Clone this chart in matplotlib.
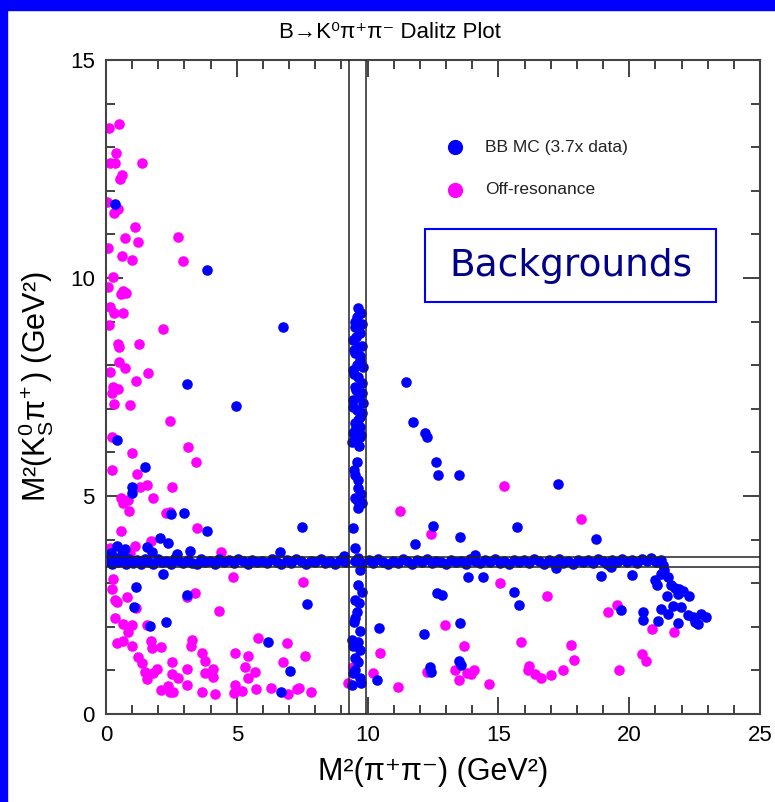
import matplotlib
matplotlib.use("Agg")
import matplotlib.pyplot as plt
from matplotlib import font_manager
from matplotlib.patches import Rectangle
from matplotlib.ticker import MultipleLocator

names = {f.name for f in font_manager.fontManager.ttflist}
NARROW = 'Liberation Sans Narrow' if 'Liberation Sans Narrow' in names else 'Liberation Sans'

plt.rcParams['font.family'] = [NARROW, 'DejaVu Sans']
plt.rcParams['mathtext.fontset'] = 'custom'
plt.rcParams['mathtext.rm'] = NARROW
plt.rcParams['mathtext.it'] = NARROW
plt.rcParams['mathtext.sf'] = NARROW

# ---------------- data ----------------
# BB MC: horizontal band
band_x = [0.08,0.22,0.35,0.47,0.61,0.76,0.88,1.02,1.19,1.33,1.48,1.66,1.81,1.97,2.14,2.3,2.47,2.62,2.79,2.95,
          3.12,3.3,3.46,3.63,3.8,3.98,4.15,4.33,4.52,4.7,4.88,5.05,5.24,5.43,5.6,5.78,5.97,6.15,6.34,6.52,
          6.7,6.9,7.08,7.27,7.45,7.63,7.82,8.0,8.2,8.38,8.57,8.76,8.95,9.13,9.5,9.62,9.78,10.05,10.22,10.4,
          10.6,10.78,10.97,11.15,11.34,11.52,11.7,11.9,12.08,12.27,12.45,12.63,12.82,13.0,13.2,13.38,13.56,13.75,13.93,14.12,
          14.3,14.5,14.68,14.86,15.05,15.23,15.42,15.6,15.8,15.98,16.17,16.35,16.55,16.73,16.92,17.1,17.3,17.48,17.67,17.85,
          18.04,18.23,18.42,18.6,18.8,18.98,19.17,19.36,19.55,19.73,19.92,20.1,20.3,20.48,20.67,20.85,21.02,21.2,21.3]
band_y = [3.52,3.45,3.58,3.48,3.54,3.44,3.55,3.47,3.53,3.43,3.56,3.49,3.45,3.55,3.48,3.52,3.44,3.57,3.5,3.46,
          3.54,3.47,3.43,3.55,3.49,3.52,3.45,3.56,3.48,3.53,3.46,3.55,3.5,3.44,3.54,3.48,3.52,3.46,3.56,3.49,
          3.45,3.53,3.47,3.55,3.5,3.44,3.52,3.48,3.55,3.46,3.51,3.44,3.54,3.49,3.5,3.57,3.46,3.53,3.47,3.55,
          3.49,3.44,3.52,3.47,3.55,3.5,3.45,3.53,3.48,3.56,3.46,3.52,3.49,3.44,3.54,3.48,3.52,3.45,3.55,3.5,
          3.46,3.53,3.48,3.56,3.47,3.52,3.44,3.54,3.49,3.53,3.46,3.55,3.5,3.45,3.53,3.48,3.55,3.47,3.52,3.45,
          3.54,3.49,3.53,3.46,3.55,3.5,3.44,3.53,3.48,3.56,3.49,3.53,3.46,3.55,3.5,3.57,3.48,3.53,3.42]

# BB MC: vertical band near M2(pi pi) ~ 9.6
vband_x = [9.64,9.6,9.53,9.72,9.45,9.64,9.53,9.72,9.45,9.64,9.53,9.8,9.45,9.83,9.6,9.72,9.53,9.72,9.45,9.41,
           9.72,9.6,9.53,9.64,9.64,9.53,9.8,9.64,9.45,9.53,9.72,9.64,9.8,9.53,9.6,9.49,9.41,9.64,9.72,9.53,
           9.45,9.72,9.41,
           9.75,9.5,9.78,9.55,9.8,9.48,9.7,9.58,9.82,9.47,9.77,9.56,9.68,9.43,9.79,9.62,9.5,9.74,9.57,9.66,
           9.49,9.76,9.6,9.68,9.5,9.7,9.46,9.62,9.52,9.74]
vband_y = [9.31,9.1,8.88,8.73,8.58,8.42,8.28,8.12,7.89,7.73,7.5,7.36,7.2,7.13,6.97,6.81,6.67,6.58,6.44,6.24,
           6.35,5.78,5.48,5.37,5.18,4.95,4.84,4.72,4.27,3.81,3.3,2.96,2.8,2.61,2.34,2.11,1.7,1.65,1.47,1.28,
           0.94,0.83,0.67,
           9.2,9.0,8.95,8.65,8.45,8.35,8.2,8.0,7.95,7.8,7.6,7.42,7.3,7.05,6.9,6.75,6.52,6.4,6.3,6.15,
           5.6,5.05,4.9,2.55,2.2,1.9,1.55,1.2,1.0,0.72]

# BB MC: scattered points
bb_x = [0.34,3.86,6.77,3.1,4.97,0.42,1.49,0.99,1.0,3.0,2.5,3.85,7.5,2.06,2.37,0.42,0.73,1.56,1.75,3.2,
        2.7,6.65,2.18,1.15,3.1,7.68,1.07,1.68,2.29,6.2,7.03,6.69,0.2,0.6,14.1,17.2,19.3,9.1,
        11.47,11.73,12.2,12.27,12.6,12.7,12.5,11.8,12.65,12.85,10.44,12.16,12.38,12.42,10.36,13.5,17.28,
        15.7,13.53,18.73,13.84,14.41,18.92,20.1,15.6,15.8,13.53,19.7,13.5,13.57,
        21.0,21.08,21.5,21.6,21.75,21.9,21.44,21.87,22.06,22.3,21.2,21.5,21.67,21.98,22.25,22.44,22.63,22.74,22.93,22.5,
        21.1,21.87,20.53,20.53,21.33,21.2]
bb_y = [11.7,10.18,8.88,7.57,7.06,6.28,5.66,5.2,5.07,4.6,4.59,4.2,4.29,4.04,3.92,3.85,3.78,3.83,3.72,3.74,
        3.67,3.72,3.21,2.91,2.73,2.52,2.45,2.02,2.11,1.65,0.99,0.5,3.7,3.66,3.65,3.35,3.37,3.62,
        7.61,6.7,6.44,6.35,5.78,5.48,4.31,3.9,2.78,2.73,1.97,1.83,1.08,0.96,0.78,5.48,5.27,
        4.29,4.06,4.01,3.14,3.14,3.17,3.19,2.8,2.5,2.09,2.39,1.22,1.12,
        3.07,2.96,3.14,2.96,2.9,2.86,2.7,2.75,2.82,2.7,2.41,2.29,2.48,2.45,2.27,2.22,2.06,2.29,2.22,2.12,
        2.13,2.09,2.34,2.16,3.3,3.2]

# Off-resonance
off_x = [0.12,0.5,0.38,0.15,0.34,1.38,0.61,0.54,0.04,0.3,0.46,1.1,0.73,1.22,2.75,0.08,0.61,0.99,2.94,0.27,
         0.08,0.65,0.76,0.58,0.15,0.31,0.65,0.12,2.18,0.46,0.48,1.26,0.5,0.73,0.15,1.6,1.15,0.27,0.46,0.23,
         0.31,0.92,2.45,0.23,3.13,0.99,3.44,0.23,1.18,2.52,1.57,1.3,0.57,0.84,0.65,1.8,0.88,2.45,2.29,3.48,
         0.57,1.72,1.11,0.15,4.4,0.92,4.85,7.53,0.27,0.23,0.8,3.4,3.1,0.34,0.42,4.32,1.15,0.34,0.65,0.99,
         1.57,0.84,5.81,0.42,0.65,0.99,1.72,1.76,2.1,3.29,3.25,6.92,1.22,1.38,3.67,3.78,4.93,5.43,7.6,2.52,
         6.77,1.95,1.49,1.8,1.57,3.1,3.78,4.09,4.09,5.31,5.7,2.52,2.75,5.43,2.1,2.37,2.45,2.56,3.1,3.67,
         4.17,4.93,4.9,5.2,5.73,6.3,6.96,7.3,7.38,7.84,9.25,9.44,
         11.24,12.42,12.96,10.47,10.2,11.16,12.27,15.2,18.16,15.06,16.86,19.2,19.53,20.87,21.7,13.7,15.86,17.78,17.9,20.5,
         20.64,13.34,13.8,13.95,14.07,13.5,14.64,16.17,16.13,16.4,16.63,17.01,17.47,19.6]
off_y = [13.44,13.53,12.87,12.64,12.64,12.64,12.36,12.27,11.74,11.5,11.58,11.17,10.92,10.83,10.94,10.69,10.5,10.41,10.39,10.02,
         9.79,9.7,9.66,9.63,9.33,9.2,9.2,8.92,8.83,8.49,8.42,8.49,8.07,7.94,7.84,7.82,7.64,7.5,7.45,7.36,
         7.11,7.09,6.72,6.35,6.12,5.99,5.78,5.6,5.5,5.2,5.25,5.2,4.95,4.9,4.84,4.95,4.66,4.63,4.61,4.27,
         4.2,3.97,3.85,3.81,3.72,3.69,3.14,3.03,3.1,2.87,2.68,2.78,2.68,2.61,2.57,2.36,2.43,2.2,2.06,2.04,
         2.04,1.88,1.74,1.63,1.67,1.56,1.67,1.51,1.54,1.7,1.56,1.63,1.31,1.17,1.4,1.22,1.4,1.33,1.33,1.19,
         1.19,1.03,0.96,0.94,0.8,1.03,0.94,1.03,0.85,1.08,0.96,0.92,0.83,0.83,0.55,0.64,0.5,0.5,0.67,0.5,
         0.46,0.67,0.48,0.53,0.57,0.6,0.46,0.57,0.6,0.5,0.71,1.08,
         4.66,4.13,2.04,1.4,0.94,0.62,0.96,5.23,4.47,3.0,2.7,2.34,2.5,1.95,1.88,1.56,1.65,1.58,1.24,1.38,
         1.22,1.01,0.94,0.92,1.01,0.78,0.69,1.1,1.01,0.92,0.83,0.89,1.01,1.01]

vlines_x = [9.3, 9.95]
hlines_y = [3.37, 3.6]
legend_labels = ["BB MC (3.7x data)", "Off-resonance"]
title = "B→K⁰π⁺π⁻ Dalitz Plot"
xlabel = "M²(π⁺π⁻) (GeV²)"
ylabel = "M²(K$^0_S$π$^{\\!+}$) (GeV²)"

# ---------------- figure ----------------
BLUE = '#0000ff'
MAG = '#ff00ff'
fig = plt.figure(figsize=(7.75, 8.02), dpi=100)
fig.patch.set_facecolor('white')
fig.patches.append(Rectangle((0, 0), 7/775, 1, transform=fig.transFigure, color=BLUE, zorder=0))
fig.patches.append(Rectangle((0, 1-10/802), 1, 10/802, transform=fig.transFigure, color=BLUE, zorder=0))

ax = fig.add_axes([106/775, 88/802, 654/775, 654/802])
ax.set_xlim(0, 25)
ax.set_ylim(0, 15)

ms = 58
ax.scatter(off_x, off_y, s=ms, c=MAG, marker='o', linewidths=0, zorder=2)
ax.scatter(band_x, band_y, s=ms, c=BLUE, marker='o', linewidths=0, zorder=2)
ax.scatter(vband_x, vband_y, s=ms, c=BLUE, marker='o', linewidths=0, zorder=2)
ax.scatter(bb_x, bb_y, s=ms, c=BLUE, marker='o', linewidths=0, zorder=2)

for xv in vlines_x:
    ax.axvline(xv, color='#222222', lw=1.1, zorder=3)
for yv in hlines_y:
    ax.axhline(yv, color='#222222', lw=1.1, zorder=3)

ax.xaxis.set_major_locator(MultipleLocator(5))
ax.xaxis.set_minor_locator(MultipleLocator(1))
ax.yaxis.set_major_locator(MultipleLocator(5))
ax.yaxis.set_minor_locator(MultipleLocator(1))
ax.tick_params(which='both', direction='in', top=True, right=True, color='#333333', width=1.3)
ax.tick_params(which='major', length=12, labelsize=16, pad=8)
ax.tick_params(which='minor', length=6.5)
for sp in ax.spines.values():
    sp.set_color('#444444')
    sp.set_linewidth(1.5)

ax.set_xlabel(xlabel, fontsize=22, labelpad=8)
ax.set_ylabel(ylabel, fontsize=22, labelpad=10)
fig.text(390/775, 1-32/802, title, ha='center', va='center', fontsize=16)

# legend
ax.scatter([13.34], [13.0], s=120, c=BLUE, linewidths=0, zorder=4)
ax.scatter([13.34], [12.02], s=120, c=MAG, linewidths=0, zorder=4)
ax.text(14.49, 13.0, legend_labels[0], fontsize=12.5, va='center', ha='left', color='#222222',
        family=['Liberation Sans', 'DejaVu Sans'])
ax.text(14.49, 12.02, legend_labels[1], fontsize=12.5, va='center', ha='left', color='#222222',
        family=['Liberation Sans', 'DejaVu Sans'])

# Backgrounds box
bx0, bx1 = (425-106)/26.16, (716-106)/26.16
by0, by1 = (714-302)/43.6, (714-229)/43.6
ax.add_patch(Rectangle((bx0, by0), bx1-bx0, by1-by0, fill=False, edgecolor=BLUE, lw=1.5, zorder=4))
ax.text((bx0+bx1)/2, (by0+by1)/2, "Backgrounds", fontsize=27, ha='center', va='center',
        color='#000088', family=['DejaVu Sans'], zorder=5)

fig.savefig("out.png", dpi=100, facecolor='white')
